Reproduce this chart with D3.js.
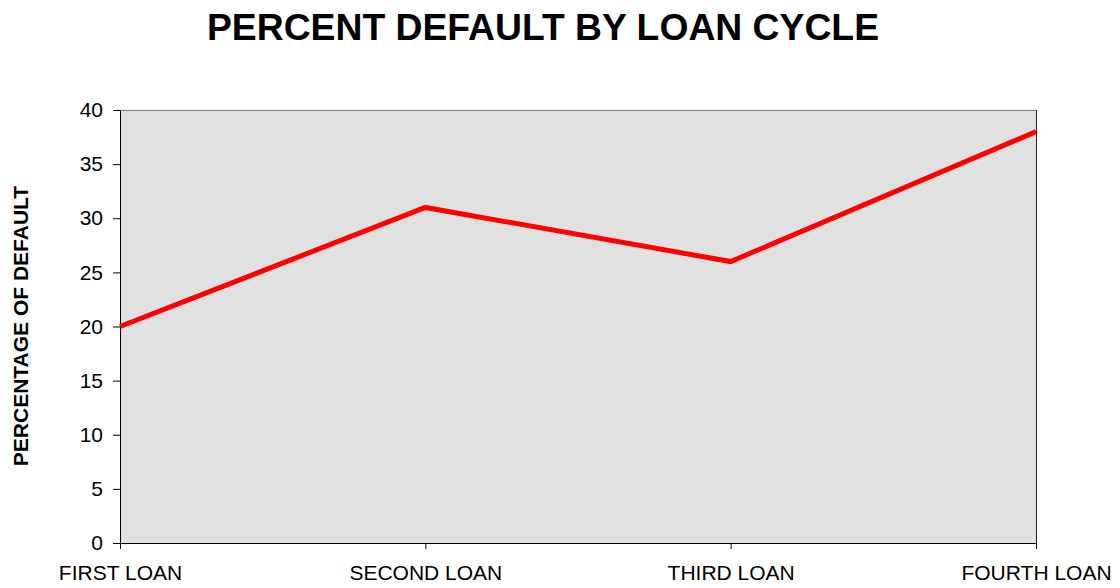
<!DOCTYPE html>
<html><head><meta charset="utf-8">
<script src="https://cdn.jsdelivr.net/npm/d3@7"></script>
<style>body{margin:0;background:#fff}svg{display:block}text{font-family:"Liberation Sans",Arial,sans-serif}</style>
</head><body>
<svg id="c" width="1120" height="588"></svg>
<script>
const categories = ["FIRST LOAN","SECOND LOAN","THIRD LOAN","FOURTH LOAN"];
const values = [20, 31, 26, 38];
const yTicks = [0,5,10,15,20,25,30,35,40];
const title = "PERCENT DEFAULT BY LOAN CYCLE";
const yLabel = "PERCENTAGE OF DEFAULT";

const svg = d3.select("#c");
const m = {l:120, r:1036, t:110, b:543};
const x = d3.scalePoint().domain(categories).range([m.l, m.r]).padding(0);
const y = d3.scaleLinear().domain([0,40]).range([m.b, m.t]);

svg.append("rect").attr("x",m.l).attr("y",m.t).attr("width",m.r-m.l).attr("height",m.b-m.t)
  .attr("fill","#e1e1e1");
svg.append("line").attr("x1",m.l).attr("x2",m.r).attr("y1",m.t+0.5).attr("y2",m.t+0.5).attr("stroke","#7a7a7a").attr("stroke-width",1);
svg.append("line").attr("x1",m.r+0.5).attr("x2",m.r+0.5).attr("y1",m.t).attr("y2",m.b).attr("stroke","#222").attr("stroke-width",1);

const yAxis = svg.append("g").attr("transform",`translate(${m.l},0)`)
  .call(d3.axisLeft(y).tickValues(yTicks).tickSize(7).tickPadding(10).tickSizeOuter(0));
yAxis.select(".domain").attr("stroke","#000");
yAxis.selectAll(".tick line").attr("stroke","#000");
yAxis.selectAll("text").attr("font-size",21).attr("fill","#000").attr("font-family","Liberation Sans, Arial, sans-serif");

const xAxis = svg.append("g").attr("transform",`translate(0,${m.b})`)
  .call(d3.axisBottom(x).tickSize(6).tickSizeOuter(0));
xAxis.select(".domain").attr("stroke","#000");
xAxis.selectAll(".tick line").attr("stroke","#000");
xAxis.selectAll("text").attr("font-size",21).attr("fill","#000").attr("y",37).attr("dy",0)
  .attr("font-family","Liberation Sans, Arial, sans-serif");

const line = d3.line().x((d,i)=>x(categories[i])).y(d=>y(d));
svg.append("path").datum(values).attr("d",line).attr("fill","none")
  .attr("stroke","#ff0000").attr("stroke-width",5).attr("stroke-linejoin","miter");

svg.append("text").attr("x",543).attr("y",40).attr("text-anchor","middle")
  .attr("font-size",37.3).attr("font-weight","bold").text(title);
svg.append("text").attr("transform","translate(27.5,326) rotate(-90)").attr("text-anchor","middle")
  .attr("font-size",21).attr("font-weight","bold").text(yLabel);
</script>
</body></html>
